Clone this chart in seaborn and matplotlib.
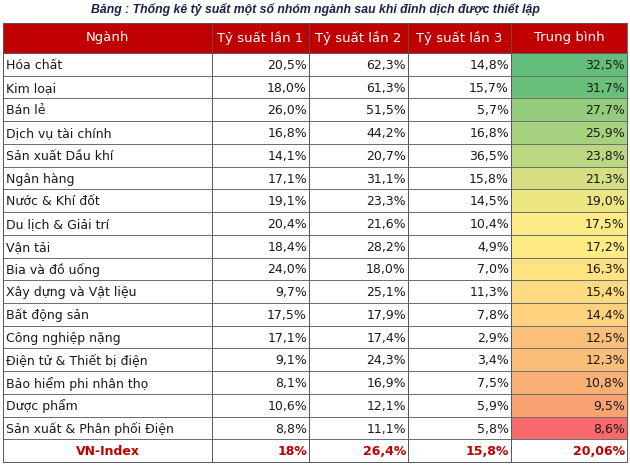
import numpy as np
import pandas as pd
import seaborn as sns
import matplotlib.pyplot as plt
from matplotlib.colors import ListedColormap, LinearSegmentedColormap, TwoSlopeNorm

title = "Bảng : Thống kê tỷ suất một số nhóm ngành sau khi đỉnh dịch được thiết lập"
headers = ["Ngành", "Tỷ suất lần 1", "Tỷ suất lần 2", "Tỷ suất lần 3", "Trung bình"]
nganh = ["Hóa chất", "Kim loại", "Bán lẻ", "Dịch vụ tài chính", "Sản xuất Dầu khí",
         "Ngân hàng", "Nước & Khí đốt", "Du lịch & Giải trí", "Vận tải", "Bia và đồ uống",
         "Xây dựng và Vật liệu", "Bất động sản", "Công nghiệp nặng",
         "Điện tử & Thiết bị điện", "Bảo hiểm phi nhân thọ", "Dược phẩm",
         "Sản xuất & Phân phối Điện"]
lan1 = [20.5, 18.0, 26.0, 16.8, 14.1, 17.1, 19.1, 20.4, 18.4, 24.0, 9.7, 17.5, 17.1, 9.1, 8.1, 10.6, 8.8]
lan2 = [62.3, 61.3, 51.5, 44.2, 20.7, 31.1, 23.3, 21.6, 28.2, 18.0, 25.1, 17.9, 17.4, 24.3, 16.9, 12.1, 11.1]
lan3 = [14.8, 15.7, 5.7, 16.8, 36.5, 15.8, 14.5, 10.4, 4.9, 7.0, 11.3, 7.8, 2.9, 3.4, 7.5, 5.9, 5.8]
trung_binh = [32.5, 31.7, 27.7, 25.9, 23.8, 21.3, 19.0, 17.5, 17.2, 16.3, 15.4, 14.4, 12.5, 12.3, 10.8, 9.5, 8.6]
vn_label = "VN-Index"
vn_values = [18, 26.4, 15.8, 20.06]
vn_decimals = [0, 1, 1, 2]

df = pd.DataFrame({"Ngành": nganh + [vn_label],
                   "lan1": lan1 + [vn_values[0]],
                   "lan2": lan2 + [vn_values[1]],
                   "lan3": lan3 + [vn_values[2]],
                   "tb": trung_binh + [vn_values[3]]})
n = len(df)

W, H = 630, 467
fig = plt.figure(figsize=(W / 100, H / 100), dpi=100)
plt.rcParams['font.family'] = ['DejaVu Sans']

def px_axes(x0, x1, y0, y1):
    return fig.add_axes([x0 / W, 1 - y1 / H, (x1 - x0) / W, (y1 - y0) / H])

col_x = [3, 212, 309, 408, 511, 627]
head_top, head_bot, body_bot = 23, 53, 462
red = "#C00000"
line = "#5a5a5a"
fs = 9.0

fig.text(0.5, 1 - 9 / H, title, ha="center", va="center", fontsize=8.8,
         fontweight="bold", style="italic", color="#1a2248",
         family=["Liberation Sans", "DejaVu Sans"])

# header cells
for j, h in enumerate(headers):
    ax = px_axes(col_x[j], col_x[j + 1], head_top, head_bot)
    ax.set_facecolor(red)
    ax.set_xticks([])
    ax.set_yticks([])
    for s in ax.spines.values():
        s.set_color(line)
        s.set_linewidth(0.6)
    ax.text(0.5, 0.5, h, ha="center", va="center", color="white", fontsize=fs + 0.5)

def fmt(v, d):
    return f"{v:.{d}f}%".replace(".", ",")

white = ListedColormap(["white"])
# Excel-like red / yellow / green scale, with a quick step out of the red end
heat = LinearSegmentedColormap.from_list(
    "excel", [(0.0, "#F8696B"), (0.05, "#F9A373"), (0.5, "#FFEB84"), (1.0, "#63BE7B")])
norm = TwoSlopeNorm(vmin=min(trung_binh), vcenter=float(np.median(trung_binh)), vmax=max(trung_binh))

cols = ["Ngành", "lan1", "lan2", "lan3", "tb"]
for j, c in enumerate(cols):
    ax = px_axes(col_x[j], col_x[j + 1], head_bot, body_bot)
    wpx = col_x[j + 1] - col_x[j]
    if c == "tb":
        mask = np.zeros((n, 1), dtype=bool)
        mask[-1] = True
        sns.heatmap(df[[c]], ax=ax, cmap=heat, norm=norm, cbar=False, mask=mask,
                    linewidths=0.5, linecolor="#707070", xticklabels=False, yticklabels=False)
    else:
        sns.heatmap(np.zeros((n, 1)), ax=ax, cmap=white, cbar=False,
                    linewidths=0.5, linecolor="#707070", xticklabels=False, yticklabels=False)
    ax.set_xlabel("")
    ax.set_ylabel("")
    for s in ax.spines.values():
        s.set_visible(True)
        s.set_color(line)
        s.set_linewidth(0.7)
    for i in range(n):
        last = i == n - 1
        color = red if last else "#1a1a1a"
        weight = "bold" if last else "normal"
        if c == "Ngành":
            if last:
                ax.text(0.5, i + 0.55, df[c][i], ha="center", va="center",
                        color=color, fontweight=weight, fontsize=fs)
            else:
                ax.text(2.5 / wpx, i + 0.55, df[c][i], ha="left", va="center",
                        color=color, fontsize=fs)
        else:
            d = vn_decimals[j - 1] if last else 1
            ax.text(1 - 2 / wpx, i + 0.55, fmt(df[c][i], d), ha="right", va="center",
                    color=color, fontweight=weight, fontsize=fs)

fig.savefig("out.png", dpi=100)
